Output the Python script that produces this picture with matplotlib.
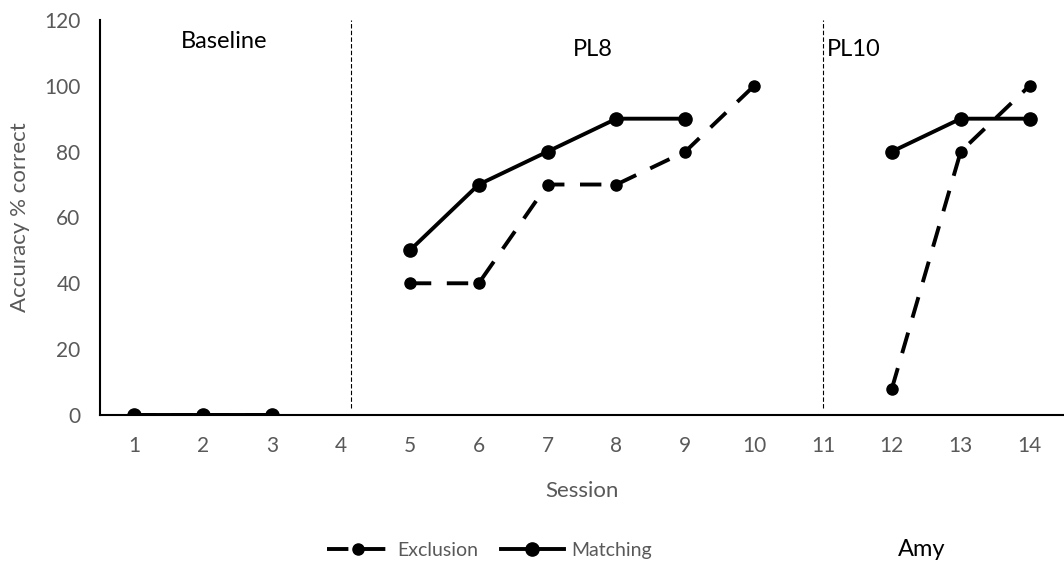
import numpy as np
import matplotlib
matplotlib.use("Agg")
import matplotlib.pyplot as plt

plt.rcParams['font.family'] = ['Lato', 'DejaVu Sans']

sessions = np.arange(1, 15)
# NaN = no session plotted (phase gaps)
exclusion = [0, 0, 0, np.nan, 40, 40, 70, 70, 80, 100, np.nan, 8, 80, 100]
matching = [0, 0, 0, np.nan, 50, 70, 80, 90, 90, np.nan, np.nan, 80, 90, 90]
phase_lines = [4.15, 11]
phase_labels = ["Baseline", "PL8", "PL10"]
phase_label_x = [2.3, 7.65, 11.45]
phase_label_y = [113.5, 111, 111]

fig = plt.figure(figsize=(10.64, 5.69), dpi=100)
ax = fig.add_axes([0.094, 0.2707, 0.906, 0.6943])

gray = "#595959"
ax.plot(sessions, exclusion, color="black", lw=2.8, ls=(0, (5.5, 4)), marker="o", ms=8,
        label="Exclusion", zorder=3)
ax.plot(sessions, matching, color="black", lw=2.8, marker="o", ms=9.5,
        label="Matching", zorder=4)

for x in phase_lines:
    ax.plot([x, x], [2, 120], color="black", lw=0.8, ls=(0, (4, 2)))
for t, x, y in zip(phase_labels, phase_label_x, phase_label_y):
    ax.text(x, y, t, fontsize=17, ha="center", va="center", color="black")

ax.set_xlim(0.5, 14.5)
ax.set_ylim(0, 120)
ax.set_xticks(sessions)
ax.set_yticks(np.arange(0, 121, 20))
ax.tick_params(axis="x", length=0, labelsize=15, colors=gray, pad=15)
ax.tick_params(axis="y", length=0, labelsize=15, colors=gray, pad=14)
for s in ["top", "right"]:
    ax.spines[s].set_visible(False)
ax.spines["left"].set_linewidth(1.5)
ax.spines["bottom"].set_linewidth(1.5)
ax.set_xlabel("Session", fontsize=16, color=gray, labelpad=18)
ax.set_ylabel("Accuracy % correct", fontsize=16, color=gray, labelpad=10)

leg = fig.legend(loc="center", bbox_to_anchor=(0.46, 0.033), ncol=2, frameon=False,
                 fontsize=14, handlelength=3.2, columnspacing=1.2, handletextpad=0.4)
for t in leg.get_texts():
    t.set_color(gray)
fig.text(0.866, 0.035, "Amy", fontsize=17, ha="center", va="center")

fig.savefig("out.png", dpi=100)
